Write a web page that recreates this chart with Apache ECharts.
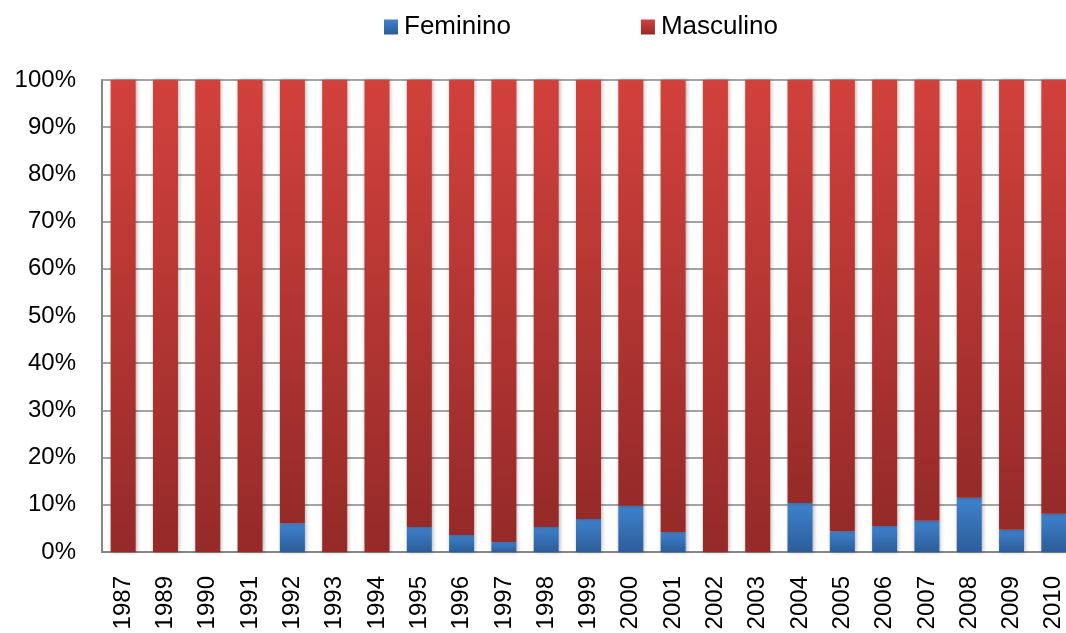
<!DOCTYPE html>
<html>
<head>
<meta charset="utf-8">
<script src="https://cdn.jsdelivr.net/npm/echarts@6/dist/echarts.min.js"></script>
<style>html,body{margin:0;padding:0;background:#fff;overflow:hidden;width:1066px;height:633px}#c{width:1075px;height:633px}</style>
</head>
<body>
<div id="c"></div>
<script>
var categories = ['1987','1989','1990','1991','1992','1993','1994','1995','1996','1997','1998','1999','2000','2001','2002','2003','2004','2005','2006','2007','2008','2009','2010'];
var feminino = [0,0,0,0,6.1,0,0,5.3,3.6,2.1,5.3,7.0,9.8,4.2,0,0,10.4,4.4,5.5,6.6,11.5,4.7,8.1];
var masculino = [100,100,100,100,93.9,100,100,94.7,96.4,97.9,94.7,93.0,90.2,95.8,100,100,89.6,95.6,94.5,93.4,88.5,95.3,91.9];
var yTicks = ['0%','10%','20%','30%','40%','50%','60%','70%','80%','90%','100%'];

var chart = echarts.init(document.getElementById('c'));
var font = 'Liberation Sans, Arial, sans-serif';
function grad(top, bottom){
  return new echarts.graphic.LinearGradient(0,0,0,1,[{offset:0,color:top},{offset:1,color:bottom}]);
}
chart.setOption({
  animation:false,
  textStyle:{fontFamily:font},
  legend:{
    top:9, left:379, icon:'rect',
    itemWidth:14, itemHeight:15, itemGap:130,
    textStyle:{fontSize:26, color:'#000', fontFamily:font, padding:[0,0,0,1]},
    data:['Feminino','Masculino']
  },
  grid:{left:102, right:0, top:80, bottom:81, containLabel:false},
  xAxis:{
    type:'category', data:categories,
    axisLine:{lineStyle:{color:'#868686', width:2}},
    axisTick:{show:false},
    axisLabel:{rotate:90, fontSize:24, color:'#000', margin:24, fontFamily:font}
  },
  yAxis:{
    type:'value', min:0, max:100, interval:10,
    axisLine:{show:true, lineStyle:{color:'#868686', width:2}},
    axisTick:{show:false},
    splitLine:{lineStyle:{color:'#868686', width:1.5}},
    axisLabel:{fontSize:24, color:'#000', margin:26, fontFamily:font,
      formatter:function(v){return yTicks[Math.round(v/10)];}}
  },
  series:[
    {name:'Feminino', type:'bar', stack:'s', data:feminino, barWidth:25,
     itemStyle:{color:grad('#3f82ce','#2c5d99'), shadowColor:'rgba(0,0,0,0.3)', shadowBlur:4, shadowOffsetX:1}},
    {name:'Masculino', type:'bar', stack:'s', data:masculino, barWidth:25,
     itemStyle:{color:grad('#d2413c','#952a29'), shadowColor:'rgba(0,0,0,0.3)', shadowBlur:4, shadowOffsetX:1}}
  ]
});
</script>
</body>
</html>
